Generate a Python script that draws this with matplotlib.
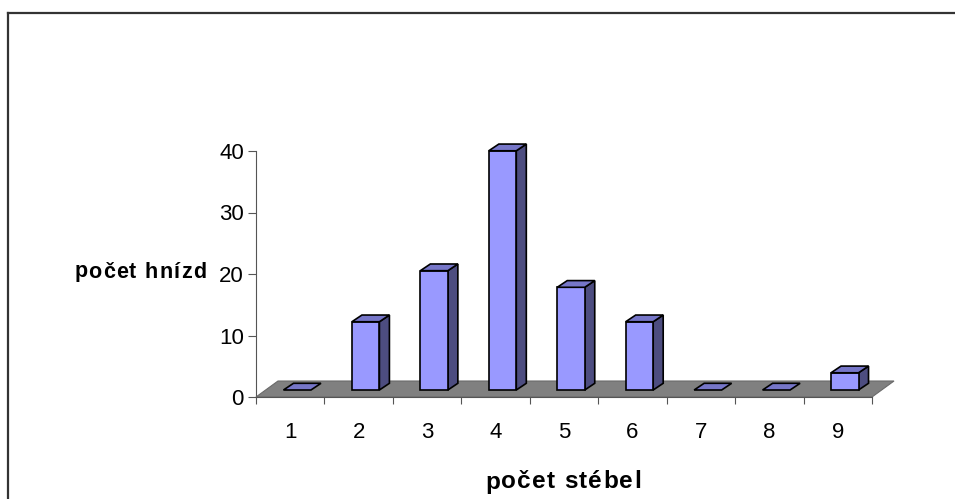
import numpy as np
import matplotlib.pyplot as plt
import matplotlib as mpl
from matplotlib.patches import Polygon
from matplotlib.lines import Line2D

mpl.rcParams['font.family'] = ['Liberation Sans', 'DejaVu Sans']

# share of nests (%) by number of stalks
kategorie = ['1', '2', '3', '4', '5', '6', '7', '8', '9']
podil = [0.0, 11.1, 19.4, 38.9, 16.7, 11.1, 0.0, 0.0, 2.8]
y_ticks = [0, 10, 20, 30, 40]

W, H = 955, 499
fig = plt.figure(figsize=(W / 100, H / 100), dpi=100)
renderer = fig.canvas.get_renderer()

# axes box in pixels: x 256..872, y 151..397 (from top)
x0, x1, ytop, ybot = 256, 872, 151, 397
ax = fig.add_axes([x0 / W, (H - ybot) / H, (x1 - x0) / W, (ybot - ytop) / H])
ax.set_xlim(0.5, 9.5)
ax.set_ylim(0, 40)

px_x = (x1 - x0) / 9.0       # pixels per category
px_y = (ybot - ytop) / 40.0  # pixels per unit

def off(dx, dy):
    # pixel offset (right, up) -> data units
    return dx / px_x, dy / px_y

# floor
fdx, fdy = off(22, 16)
floor = Polygon([(0.5, 0), (9.5, 0), (9.5 + fdx, fdy), (0.5 + fdx, fdy)],
                closed=True, facecolor='#808080', edgecolor='#6a6a6a', lw=0.8,
                clip_on=False, zorder=1)
ax.add_patch(floor)

c_front = '#9999FF'
c_top = '#7676C8'
c_side = '#4D4D80'
bw = 27.5 / px_x
odx, ody = off(7, 7)     # front face position on the floor
sdx, sdy = off(10, 6.7)  # depth of the bar

for i, v in enumerate(podil):
    xc = i + 1 + odx
    xl, xr = xc - bw / 2, xc + bw / 2
    yb, yt = ody, ody + v
    kw = dict(closed=True, edgecolor='black', lw=1.2, clip_on=False,
              joinstyle='miter', zorder=3)
    if v > 0:
        ax.add_patch(Polygon([(xr, yb), (xr + sdx, yb + sdy), (xr + sdx, yt + sdy), (xr, yt)],
                             facecolor=c_side, **kw))
        ax.add_patch(Polygon([(xl, yb), (xr, yb), (xr, yt), (xl, yt)],
                             facecolor=c_front, **kw))
    ax.add_patch(Polygon([(xl, yt), (xr, yt), (xr + sdx, yt + sdy), (xl + sdx, yt + sdy)],
                         facecolor=c_top, **kw))

for s in ['top', 'right']:
    ax.spines[s].set_visible(False)
ax.spines['left'].set_color('#555555')
ax.spines['bottom'].set_color('#555555')
ax.spines['left'].set_zorder(0)

ax.set_yticks(y_ticks)
ax.set_yticklabels([str(t) for t in y_ticks])
ax.tick_params(axis='y', length=5.8, width=0.8, color='#555555', pad=3, labelsize=16)

ax.set_xticks(np.arange(1, 10))
ax.set_xticklabels(kategorie)
ax.set_xticks(np.arange(0.5, 10, 1), minor=True)
ax.tick_params(axis='x', which='major', length=0, pad=18, labelsize=16)
ax.tick_params(axis='x', which='minor', length=5, width=0.8, color='#555555')


def spaced_text(xc, yc, s, size, gap):
    # bold label with extra letter spacing, centred on (xc, yc) in pixels from top-left
    chars = [fig.text(0, 0, ch, fontsize=size, fontweight='bold', va='center')
             for ch in s]
    widths = [t.get_window_extent(renderer).width for t in chars]
    total = sum(widths) + gap * (len(s) - 1)
    x = xc - total / 2
    for t, w in zip(chars, widths):
        t.set_position((x / W, 1 - yc / H))
        x += w + gap


spaced_text(140, 272, 'počet hnízd', 15.5, 1.2)
spaced_text(563, 482, 'počet stébel', 17.5, 1.2)

# chart frame
fig.add_artist(Line2D([8 / W, 8 / W], [0, 1 - 13 / H], color='#333333', lw=1.6))
fig.add_artist(Line2D([8 / W, 1], [1 - 13 / H, 1 - 13 / H], color='#333333', lw=1.6))

fig.savefig('out.png', dpi=100)
